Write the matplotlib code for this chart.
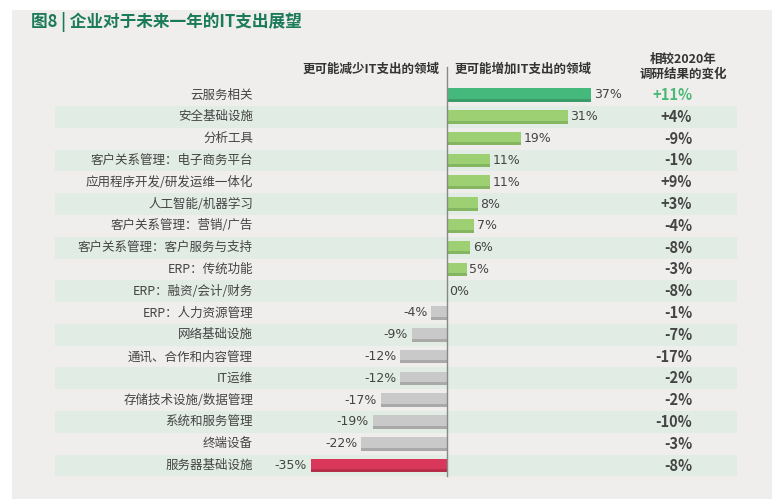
import matplotlib
matplotlib.use("Agg")
import matplotlib.pyplot as plt
from matplotlib.patches import Rectangle

plt.rcParams['font.family'] = ['Noto Sans CJK SC', 'DejaVu Sans']

categories = ["云服务相关", "安全基础设施", "分析工具", "客户关系管理：电子商务平台",
              "应用程序开发/研发运维一体化", "人工智能/机器学习", "客户关系管理：营销/广告",
              "客户关系管理：客户服务与支持", "ERP：传统功能", "ERP：融资/会计/财务",
              "ERP：人力资源管理", "网络基础设施", "通讯、合作和内容管理", "IT运维",
              "存储技术设施/数据管理", "系统和服务管理", "终端设备", "服务器基础设施"]
values = [37, 31, 19, 11, 11, 8, 7, 6, 5, 0, -4, -9, -12, -12, -17, -19, -22, -35]
changes = ["+11%", "+4%", "-9%", "-1%", "+9%", "+3%", "-4%", "-8%", "-3%", "-8%",
           "-1%", "-7%", "-17%", "-2%", "-2%", "-10%", "-3%", "-8%"]

W, H = 782, 499
fig = plt.figure(figsize=(W/100, H/100), dpi=100, facecolor="white")
fig.patches.append(Rectangle((12/W, 0), (772-12)/W, 1-10/H, transform=fig.transFigure,
                             facecolor="#efeeec", edgecolor="none", zorder=-10))

n = len(categories)
x0, x1 = 55, 737
zero = 447
s = 3.9
top, step = 95, 21.8
ytop = top - step/2
ybot = top + step*(n-0.5)
ax = fig.add_axes([x0/W, 1-ybot/H, (x1-x0)/W, (ybot-ytop)/H])
ax.set_xlim(-(zero-x0)/s, (x1-zero)/s)
ax.set_ylim(n-0.5, -0.5)
ax.axis("off")

for i in range(n):
    if i % 2 == 1:
        ax.axhspan(i-0.5, i+0.5, color="#e0ece4", zorder=0, lw=0)

for i, v in enumerate(values):
    if i == 0:
        c, cd = "#45b97c", "#3a9c68"
    elif v > 0:
        c, cd = "#9dcf73", "#84b560"
    elif v == values[-1]:
        c, cd = "#d9385a", "#b82d4a"
    else:
        c, cd = "#c9c9c9", "#a9a9a9"
    if v != 0:
        ax.barh(i, v, height=0.62, color=c, zorder=2, lw=0)
        ax.barh(i+0.24, v, height=0.14, color=cd, zorder=3, lw=0)
    if v >= 0:
        ax.text(v + 0.6, i, f"{v}%", ha="left", va="center", fontsize=9,
                color="#444444", family=['Liberation Sans Narrow', 'DejaVu Sans'], zorder=4)
    else:
        ax.text(v - 1.0, i, f"{v}%", ha="right", va="center", fontsize=9,
                color="#444444", family=['Liberation Sans Narrow', 'DejaVu Sans'], zorder=4)
    ax.text((253-zero)/s, i, categories[i], ha="right", va="center", fontsize=9,
            color="#444444", zorder=4)
    ax.text((692-zero)/s, i, changes[i], ha="right", va="center", fontsize=10.5,
            fontweight="bold", color="#4cb878" if i == 0 else "#444444", zorder=4)

ax.plot([0, 0], [-1.3, n-0.5], color="#888888", lw=1, zorder=5, clip_on=False)

fig.text(31/W, 1-22/H, "图8 | 企业对于未来一年的IT支出展望", fontsize=12, fontweight="bold",
         color="#1a7a5a", ha="left", va="center")
fig.text(440/W, 1-69/H, "更可能减少IT支出的领域", fontsize=9, fontweight="bold",
         color="#333333", ha="right", va="center")
fig.text(455/W, 1-69/H, "更可能增加IT支出的领域", fontsize=9, fontweight="bold",
         color="#333333", ha="left", va="center")
fig.text(683/W, 1-67/H, "相较2020年\n调研结果的变化", fontsize=9, fontweight="bold",
         color="#333333", ha="center", va="center", linespacing=1.2)

fig.savefig("out.png", dpi=100, facecolor=fig.get_facecolor())
